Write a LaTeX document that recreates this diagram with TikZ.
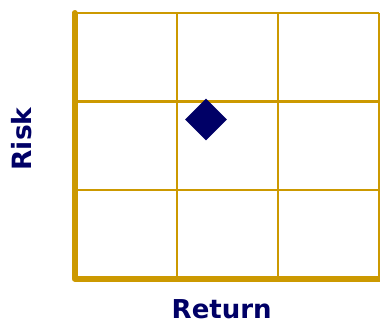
\documentclass[tikz,border=0pt]{standalone}
\usepackage{fontspec}
\setsansfont{DejaVu Sans}
\usetikzlibrary{shapes.geometric}
\definecolor{gold}{HTML}{CC9900}
\definecolor{navy}{HTML}{000066}
\begin{document}
\begin{tikzpicture}[x=1pt,y=-1pt]
  \useasboundingbox (0,0) rectangle (380,322);
  \foreach \x in {177,278,379} \draw[gold,line width=2.7pt] (\x,13)--(\x,278);
  \foreach \y in {13,101.5,190} \draw[gold,line width=2.7pt] (75,\y)--(379,\y);
  \draw[gold,line width=6pt,line cap=round,line join=round] (74.5,13)--(74.5,278.5)--(383,278.5);
  \node[diamond,fill=navy,inner sep=0pt,minimum width=42pt,minimum height=42pt] (pos) at (206,119.5) {};
  \node[font=\sffamily\bfseries\fontsize{26.5}{26.5}\selectfont,text=navy,rotate=90] (risk) at (21.7,139) {Risk};
  \node[font=\sffamily\bfseries\fontsize{26}{26}\selectfont,text=navy,anchor=base,inner sep=0pt] (ret) at (221.7,318.5) {Return};
\end{tikzpicture}
\end{document}
